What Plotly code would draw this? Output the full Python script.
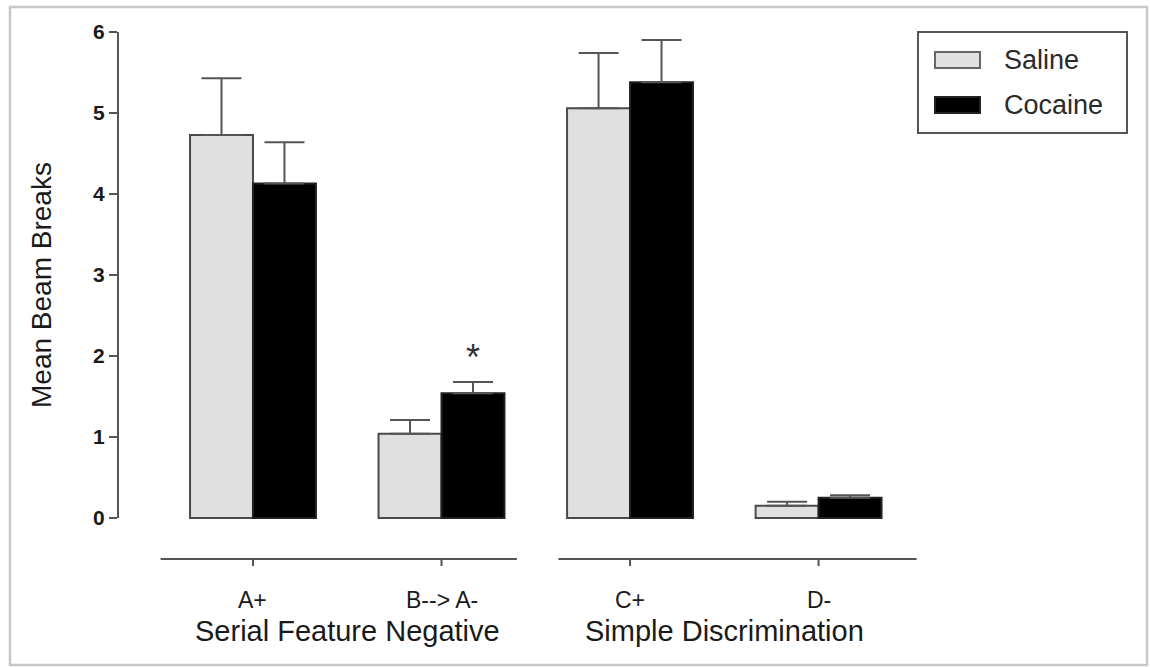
import plotly.graph_objects as go

# ---- data ----
categories = ["A+", "B--> A-", "C+", "D-"]
series_names = ["Saline", "Cocaine"]
saline_mean = [4.73, 1.04, 5.06, 0.15]
saline_sem = [0.70, 0.17, 0.68, 0.05]
cocaine_mean = [4.13, 1.54, 5.38, 0.25]
cocaine_sem = [0.51, 0.14, 0.52, 0.03]
group_labels = ["Serial Feature Negative", "Simple Discrimination"]
y_ticks = [0, 1, 2, 3, 4, 5, 6]
significant = [False, True, False, False]  # cocaine vs saline

# ---- geometry (pixels of the 1150x667 page) ----
W, H = 1150, 667
PL, PR, PT, PB = 118, 1140, 30, 570
X0, X1 = -0.716, 4.705
Y0, Y1 = -0.642, 6.025

def pxx(px):
    return (px - PL) / (PR - PL)

def pxy(py):
    return (PB - py) / (PB - PT)

def data_y(py):
    return Y1 - (py - PT) / (PB - PT) * (Y1 - Y0)

FONT = "Liberation Sans, Arial, Helvetica, sans-serif"
TXT = "#1a1a1a"
AX = "#555555"
SAL_FILL = "#e0e0e0"
COC_FILL = "#000000"

fig = go.Figure()
fig.add_trace(go.Bar(
    name=series_names[0], x=categories, y=saline_mean,
    marker=dict(color=SAL_FILL, line=dict(color="#4a4a4a", width=2)),
    error_y=dict(type="data", array=saline_sem, arrayminus=[0] * len(saline_sem),
                 symmetric=False, color=AX, thickness=2, width=20),
    showlegend=False,
))
fig.add_trace(go.Bar(
    name=series_names[1], x=categories, y=cocaine_mean,
    marker=dict(color=COC_FILL, line=dict(color="#222222", width=2)),
    error_y=dict(type="data", array=cocaine_sem, arrayminus=[0] * len(cocaine_sem),
                 symmetric=False, color=AX, thickness=2, width=20),
    showlegend=False,
))

shapes = []
annotations = []

# y axis line (0..6)
shapes.append(dict(type="line", xref="paper", yref="y", x0=0, x1=0,
                   y0=y_ticks[0], y1=y_ticks[-1], line=dict(color=AX, width=2)))

# broken x axis: one segment per group of two categories
axis_y = data_y(559)
tick_y = data_y(566)
seg_ranges = [(-0.49, 1.40), (1.62, 3.52)]
for (a, b) in seg_ranges:
    shapes.append(dict(type="line", xref="x", yref="y", x0=a, x1=b,
                       y0=axis_y, y1=axis_y, line=dict(color=AX, width=2)))
for i, c in enumerate(categories):
    shapes.append(dict(type="line", xref="x", yref="y", x0=i, x1=i,
                       y0=axis_y, y1=tick_y, line=dict(color=AX, width=2)))
    annotations.append(dict(x=i, y=pxy(600), xref="x", yref="paper", text=c,
                            showarrow=False, xanchor="center", yanchor="middle",
                            font=dict(family=FONT, size=23, color=TXT)))

for g, lab in enumerate(group_labels):
    annotations.append(dict(x=2 * g + 0.5, y=pxy(631), xref="x", yref="paper", text=lab,
                            showarrow=False, xanchor="center", yanchor="middle",
                            font=dict(family=FONT, size=29, color=TXT)))

# significance star above cocaine bar
bar_half = 63 / 188.5 / 2
for i, sig in enumerate(significant):
    if sig:
        annotations.append(dict(x=i + bar_half, y=cocaine_mean[i] + cocaine_sem[i] + 0.30,
                                xref="x", yref="y", text="*", showarrow=False,
                                xanchor="center", yanchor="middle",
                                font=dict(family=FONT, size=36, color="#333333")))

# y axis title
annotations.append(dict(x=pxx(41), y=pxy(285), xref="paper", yref="paper",
                        text="Mean Beam Breaks", textangle=-90, showarrow=False,
                        xanchor="center", yanchor="middle",
                        font=dict(family=FONT, size=28, color=TXT)))

# legend box (drawn)
shapes.append(dict(type="rect", xref="paper", yref="paper",
                   x0=pxx(918), x1=pxx(1127), y0=pxy(133), y1=pxy(32),
                   line=dict(color=AX, width=2), fillcolor="white"))
leg_rows = [(series_names[0], SAL_FILL, "#666666", 60),
            (series_names[1], COC_FILL, "#222222", 105)]
for name, fill, edge, cy in leg_rows:
    shapes.append(dict(type="rect", xref="paper", yref="paper",
                       x0=pxx(935), x1=pxx(980), y0=pxy(cy + 8), y1=pxy(cy - 8),
                       line=dict(color=edge, width=2), fillcolor=fill))
    annotations.append(dict(x=pxx(1002), y=pxy(cy), xref="paper", yref="paper",
                            text=name, showarrow=False, xanchor="left", yanchor="middle",
                            font=dict(family=FONT, size=27, color="#2a2a2a")))

# outer frame of the picture
shapes.append(dict(type="rect", xref="paper", yref="paper",
                   x0=pxx(10), x1=pxx(1147), y0=pxy(665), y1=pxy(7),
                   line=dict(color="#c8c8c8", width=2.5), layer="below"))

fig.update_layout(
    width=W, height=H,
    margin=dict(l=PL, r=W - PR, t=PT, b=H - PB, pad=0),
    paper_bgcolor="white", plot_bgcolor="white",
    barmode="group", bargap=0.332, bargroupgap=0,
    shapes=shapes, annotations=annotations,
    showlegend=False,
    xaxis=dict(range=[X0, X1], showline=False, showgrid=False, zeroline=False,
               showticklabels=False, ticks=""),
    yaxis=dict(range=[Y0, Y1], tickvals=y_ticks, ticks="outside", ticklen=8,
               tickwidth=2, tickcolor=AX, showline=False, showgrid=False,
               zeroline=False,
               tickfont=dict(family=FONT, size=21, color=TXT, weight="bold")),
)

fig.write_html(
    "out.html",
    config={"displayModeBar": False},
    post_script="document.body.style.margin='0';document.body.style.overflow='hidden';",
)
